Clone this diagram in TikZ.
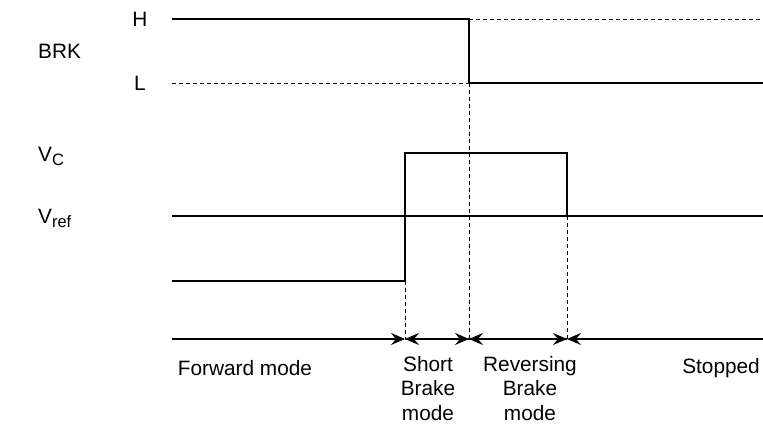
\documentclass[tikz,border=0pt]{standalone}
\usepackage{fontspec}
\setmainfont{Liberation Sans}
\usetikzlibrary{arrows.meta}
\begin{document}
\begin{tikzpicture}[x=1pt,y=-1pt,
  sig/.style={line width=2.5pt},
  thinl/.style={line width=1.2pt},
  dsh/.style={line width=0.9pt,dash pattern=on 4pt off 3pt},
  ax/.style={line width=1.2pt},
  tip/.style={-{Stealth[length=14pt,width=12pt,inset=5pt]}},
  lbl/.style={inner sep=0pt,font=\fontsize{20.8}{24.5}\selectfont},
  mlbl/.style={lbl,align=center}]
\useasboundingbox (0,0) rectangle (763,430);
% coordinates
\coordinate (h0) at (172,19);
\coordinate (h1) at (469,19);
\coordinate (h2) at (763,19);
\coordinate (l0) at (172,83);
\coordinate (l1) at (469,83);
\coordinate (l2) at (763,83);
\coordinate (c0) at (172,281);
\coordinate (c1) at (405,281);
\coordinate (c2) at (405,153);
\coordinate (c3) at (567,153);
\coordinate (c4) at (567,216);
\coordinate (c5) at (763,216);
\coordinate (r0) at (172,216);
\coordinate (a0) at (172,339);
\coordinate (a1) at (405,339);
\coordinate (a2) at (469,339);
\coordinate (a3) at (567,339);
\coordinate (a4) at (763,339);
% labels
\node[lbl,anchor=west] (brk) at (38,51) {BRK};
\node[lbl] (hl) at (140,19) {H};
\node[lbl] (ll) at (140,83) {L};
\node[lbl,anchor=west] (vc) at (38,156) {V\raisebox{-4pt}{\fontsize{16.5}{18}\selectfont C}};
\node[lbl,anchor=west] (vref) at (38,218) {V\raisebox{-4pt}{\fontsize{16.5}{18}\selectfont ref}};
% reference line
\draw[thinl] (r0) -- (c5);
% dashed guides
\draw[dsh] (h1) -- (h2);
\draw[dsh] (l0) -- (l1);
\draw[dsh] (l1) -- (a2);
\draw[dsh] (c1) -- (a1);
\draw[dsh] (c4) -- (a3);
% BRK signal
\draw[sig] (h0) -- (h1) -- (l1) -- (l2);
% Vc signal
\draw[sig] (c0) -- (c1) -- (c2) -- (c3) -- (c4) -- (c5);
% axis
\draw[ax,tip] (a0) -- (a1);
\draw[ax,tip] (a2) -- (a1);
\draw[ax,tip] (a1) -- (a2);
\draw[ax,tip] (a3) -- (a2);
\draw[ax,tip] (a2) -- (a3);
\draw[ax,tip] (a4) -- (a3);
% mode labels
\node[lbl] (fwd) at (245,368) {Forward mode};
\node[mlbl,anchor=north] (sb) at (428,356) {Short\\Brake\\mode};
\node[mlbl,anchor=north] (rb) at (530,356) {Reversing\\Brake\\mode};
\node[lbl,anchor=east] (st) at (760,368) {Stopped};
\end{tikzpicture}
\end{document}
